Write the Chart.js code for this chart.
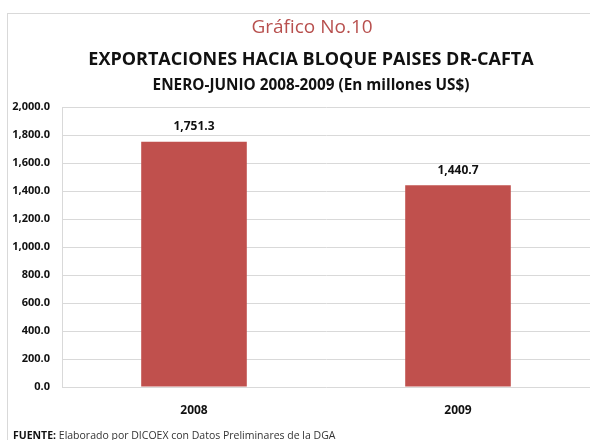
<!DOCTYPE html>
<html>
<head>
<meta charset="utf-8">
<script src="https://cdn.jsdelivr.net/npm/chart.js@4.4.0/dist/chart.umd.min.js"></script>
<style>
  html, body { margin: 0; padding: 0; background: #fff; overflow: hidden; }
  #wrap { position: relative; width: 590px; height: 440px; overflow: hidden; }
  #frame { position: absolute; left: 7px; top: 13px; width: 640px; height: 480px; border: 1px solid #d9d9d9; box-sizing: border-box; }
  canvas { position: absolute; left: 0; top: 0; }
</style>
</head>
<body>
<div id="wrap">
  <div id="frame"></div>
  <canvas id="chart" width="590" height="440"></canvas>
</div>
<script>
// Data
const categories = ['2008', '2009'];
const exportValues = [1751.3, 1440.7];
const titleLines = [
    'Gráfico No.10',
    'EXPORTACIONES HACIA BLOQUE PAISES DR-CAFTA',
    'ENERO-JUNIO 2008-2009 (En millones US$)'
];
const sourceLabel = 'FUENTE:';
const sourceText = ' Elaborado por DICOEX con Datos Preliminares de la DGA';

const FONT = '"Open Sans", sans-serif';
const BAR_RED = '#c0504d';

function fmt(v) {
    return Number(v).toLocaleString('en-US', { minimumFractionDigits: 1, maximumFractionDigits: 1 });
}

// Titles + source line
const textPlugin = {
    id: 'texts',
    afterDraw(chart) {
        const ctx = chart.ctx;
        ctx.save();
        ctx.textAlign = 'center';
        ctx.textBaseline = 'middle';

        ctx.fillStyle = '#b8504e';
        ctx.font = '19px ' + FONT;
        ctx.fillText(titleLines[0], 312, 28);

        ctx.fillStyle = '#111';
        ctx.font = 'bold 18px ' + FONT;
        ctx.fillText(titleLines[1], 311, 60);

        ctx.font = 'bold 15.3px ' + FONT;
        ctx.fillText(titleLines[2], 311, 86);

        // source
        ctx.textAlign = 'left';
        ctx.font = 'bold 10.5px ' + FONT;
        ctx.fillStyle = '#111';
        ctx.fillText(sourceLabel, 13, 436);
        const w = ctx.measureText(sourceLabel).width;
        ctx.font = '10.5px ' + FONT;
        ctx.fillStyle = '#333';
        ctx.fillText(sourceText, 13 + w, 436);
        ctx.restore();
    }
};

// Value labels above bars
const valueLabels = {
    id: 'valueLabels',
    afterDatasetsDraw(chart) {
        const ctx = chart.ctx;
        const meta = chart.getDatasetMeta(0);
        ctx.save();
        ctx.textAlign = 'center';
        ctx.textBaseline = 'middle';
        ctx.font = 'bold 12px ' + FONT;
        ctx.fillStyle = '#111';
        meta.data.forEach((bar, i) => {
            ctx.fillText(fmt(exportValues[i]), bar.x, bar.y - 15);
        });
        ctx.restore();
    }
};

const ctx = document.getElementById('chart').getContext('2d');
const chart = new Chart(ctx, {
    type: 'bar',
    data: {
        labels: categories,
        datasets: [{
            data: exportValues,
            backgroundColor: BAR_RED,
            borderWidth: 0,
            categoryPercentage: 1,
            barPercentage: 0.4
        }]
    },
    options: {
        responsive: false,
        animation: false,
        layout: { padding: { top: 107, left: 10, right: 0, bottom: 0 } },
        plugins: {
            legend: { display: false },
            tooltip: { enabled: false }
        },
        scales: {
            x: {
                grid: { display: false, drawTicks: false },
                border: { display: false },
                ticks: { padding: 16, color: '#111', font: { family: FONT, size: 12, weight: 'bold' } },
                afterFit: s => { s.height = 53; }
            },
            y: {
                min: 0,
                max: 2000,
                grid: { color: '#d9d9d9', drawTicks: false },
                border: { color: '#d9d9d9' },
                ticks: {
                    stepSize: 200,
                    padding: 12,
                    color: '#111',
                    font: { family: FONT, size: 11, weight: 'bold' },
                    callback: v => fmt(v)
                },
                afterFit: s => { s.width = 52; }
            }
        }
    },
    plugins: [textPlugin, valueLabels]
});
</script>
</body>
</html>
